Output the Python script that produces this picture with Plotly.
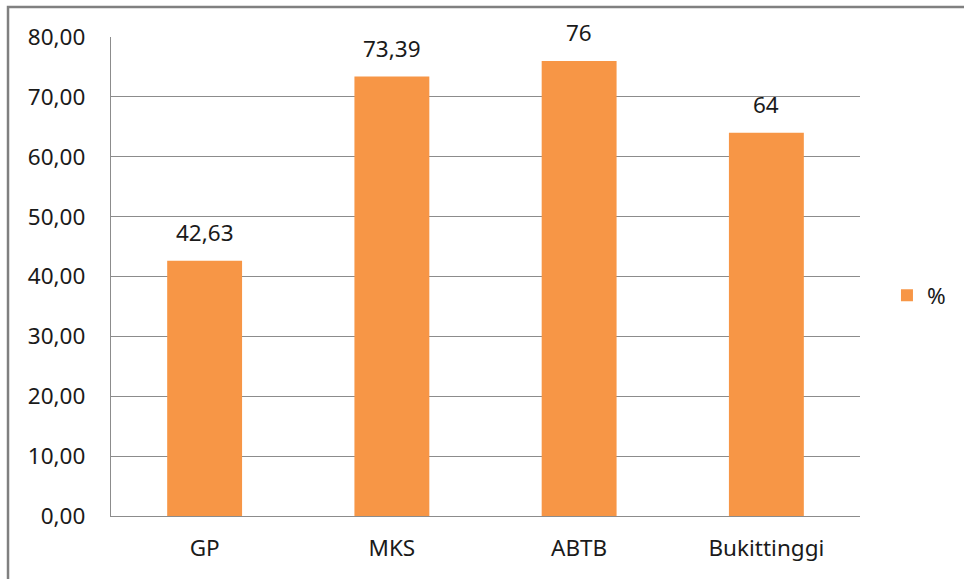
import plotly.graph_objects as go

categories = ["GP", "MKS", "ABTB", "Bukittinggi"]
values = [42.63, 73.39, 76, 64]
series_name = "%"
y_ticks = [0, 10, 20, 30, 40, 50, 60, 70, 80]

BAR_COLOR = "#F79646"
GRID_COLOR = "#8C8C8C"
TEXT_COLOR = "#1a1a1a"
FONT = "'Noto Sans', sans-serif"
FONT_SIZE = 22.5


def label(v):
    return f"{v:g}".replace(".", ",")


fig = go.Figure()
fig.add_trace(go.Bar(
    x=categories,
    y=values,
    name=series_name,
    marker=dict(color=BAR_COLOR, line=dict(width=0)),
    width=0.4,
    showlegend=True,
))

for c, v in zip(categories, values):
    fig.add_annotation(
        x=c, y=v, text=label(v), showarrow=False,
        yanchor="bottom", yshift=11,
        font=dict(size=FONT_SIZE, color=TEXT_COLOR, family=FONT),
    )

# outer chart frame (right and bottom edges fall outside the view)
fig.add_shape(
    type="rect", xref="paper", yref="paper",
    x0=-0.1375, x1=1.3, y0=-0.3, y1=1.0626,
    line=dict(color="#808080", width=2.5), fillcolor="rgba(0,0,0,0)",
    layer="below",
)

fig.update_layout(
    width=964, height=579,
    margin=dict(l=111, r=104, t=37, b=63),
    paper_bgcolor="white",
    plot_bgcolor="white",
    separators=",.",
    font=dict(family=FONT, size=FONT_SIZE, color=TEXT_COLOR),
    bargap=0.6,
    legend=dict(
        x=1.036, xanchor="left", y=0.46, yanchor="middle",
        font=dict(size=FONT_SIZE, color=TEXT_COLOR, family=FONT),
        itemwidth=30, bgcolor="rgba(0,0,0,0)",
    ),
    xaxis=dict(
        showgrid=False, showline=True, linecolor=GRID_COLOR, linewidth=1.3,
        ticks="", tickfont=dict(size=FONT_SIZE), ticklabelstandoff=12,
    ),
    yaxis=dict(
        range=[0, 80], tickvals=y_ticks, tickformat=".2f",
        showgrid=True, gridcolor=GRID_COLOR, gridwidth=1.3,
        showline=True, linecolor=GRID_COLOR, linewidth=1.3,
        zeroline=False, ticks="", tickfont=dict(size=FONT_SIZE),
        ticklabelstandoff=20,
    ),
)

fig.write_html("out.html")
